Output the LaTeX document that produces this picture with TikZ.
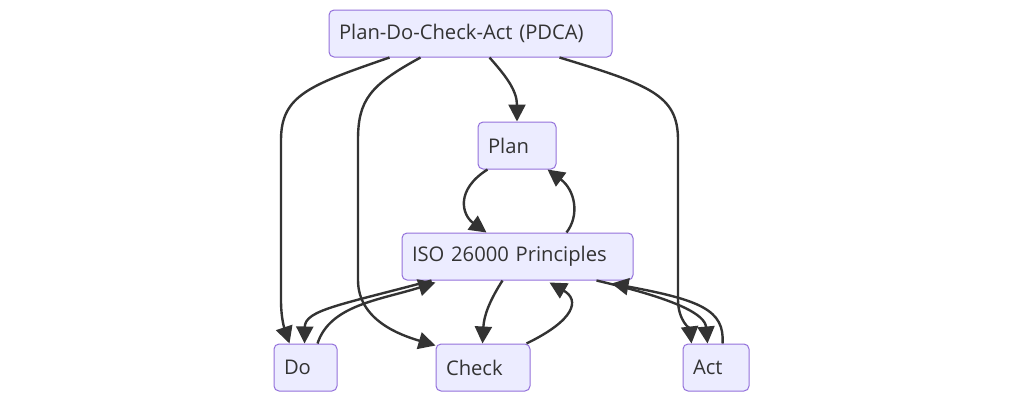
\documentclass[tikz,border=0pt]{standalone}
\usepackage{fontspec}
\setmainfont{Open Sans}
\usetikzlibrary{arrows.meta,calc}
\definecolor{nodefill}{HTML}{ECECFF}
\definecolor{nodeline}{HTML}{9370DB}
\definecolor{ink}{HTML}{333333}
\tikzset{
  box/.style={draw=nodeline, fill=nodefill, line width=1pt, rounded corners=5pt,
    minimum height=47pt, inner xsep=10pt, inner ysep=0pt, align=left,
    font=\fontsize{20.2}{24}\selectfont, text=ink, anchor=center},
  link/.style={draw=ink, line width=2.4pt, -{Triangle[length=17pt,width=17pt]}},
}
\begin{document}
\begin{tikzpicture}[x=1pt,y=-1pt]
\useasboundingbox (0,0) rectangle (1024,402);
\node[box, minimum width=283pt, text width=263pt] (pdca) at (470.5,33.5) {Plan-Do-Check-Act (PDCA)};
\node[box, minimum width=78pt, text width=58pt] (plan) at (517,145.5) {Plan};
\node[box, minimum width=231pt, text width=211pt] (iso) at (517.5,256.5) {ISO 26000 Principles};
\node[box, minimum width=63pt, text width=43pt] (do) at (305.5,367.5) {Do};
\node[box, minimum width=94pt, text width=74pt] (check) at (483,367.5) {Check};
\node[box, minimum width=66pt, text width=46pt] (act) at (716,367.5) {Act};
% PDCA -> Do
\draw[link] ($(pdca.south west)+(61,0)$) .. controls (310,85) and (281,95) .. (281,140)
  -- (281,300) .. controls (281,320) and (285,330) .. ($(do.north west)+(16,0)$);
% PDCA -> Check
\draw[link] ($(pdca.south west)+(92,0)$) .. controls (370,85) and (358,100) .. (358,140)
  -- (358,280) .. controls (358,320) and (400,335) .. ($(check.north west)+(0,2)$);
% PDCA -> Plan
\draw[link] ($(pdca.south west)+(161,0)$) .. controls (505,75) and (517,90) .. (plan.north);
% PDCA -> Act
\draw[link] ($(pdca.south west)+(231,0)$) .. controls (650,85) and (678,95) .. (678,140)
  -- (678,300) .. controls (678,320) and (690,330) .. ($(act.north west)+(9,0)$);
% Plan -> ISO
\draw[link] ($(plan.south west)+(10,0)$) .. controls (455,190) and (462,215) .. ($(iso.north west)+(85,0)$);
% ISO -> Plan
\draw[link] ($(iso.north west)+(165,0)$) .. controls (580,215) and (575,190) .. ($(plan.south west)+(70,0)$);
% ISO -> Do
\draw[link] ($(iso.south west)+(30,0)$) .. controls (340,305) and (305,310) .. ($(do.north west)+(31,0)$);
% Do -> ISO
\draw[link] ($(do.north west)+(44,0)$) .. controls (330,305) and (380,300) .. ($(iso.south west)+(34,2)$);
% ISO -> Check
\draw[link] ($(iso.south west)+(101,0)$) .. controls (490,300) and (484,315) .. ($(check.north west)+(47,0)$);
% Check -> ISO
\draw[link] ($(check.north west)+(91,0)$) .. controls (575,320) and (580,300) .. ($(iso.south west)+(148,2)$);
% ISO -> Act
\draw[link] ($(iso.south west)+(195,0)$) .. controls (680,300) and (705,315) .. ($(act.north west)+(25,0)$);
% Act -> ISO
\draw[link] ($(act.north west)+(40,0)$) .. controls (725,310) and (700,300) .. ($(iso.south west)+(210,3)$);
\end{tikzpicture}
\end{document}
